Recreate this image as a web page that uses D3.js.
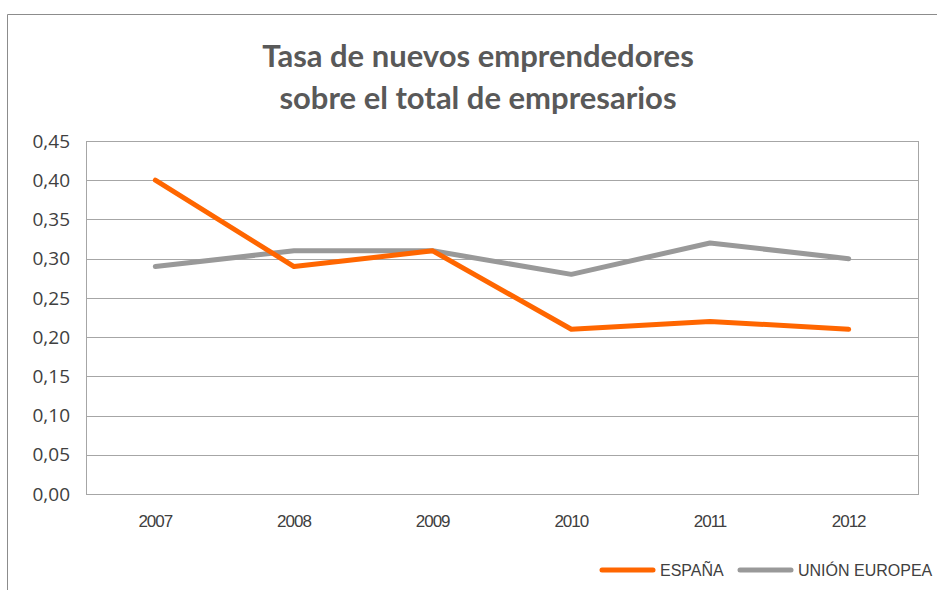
<!DOCTYPE html>
<html>
<head>
<meta charset="utf-8">
<script src="https://cdn.jsdelivr.net/npm/d3@7"></script>
<style>
  body { margin: 0; background: #fff; }
  svg { display: block; }
</style>
</head>
<body>
<div id="chart"></div>
<script>
// data
const years = ['2007', '2008', '2009', '2010', '2011', '2012']
const espana = [0.40, 0.29, 0.31, 0.21, 0.22, 0.21]
const unionEuropea = [0.29, 0.31, 0.31, 0.28, 0.32, 0.30]
const yTicks = [0, 0.05, 0.10, 0.15, 0.20, 0.25, 0.30, 0.35, 0.40, 0.45]
const seriesNames = ['ESPAÑA', 'UNIÓN EUROPEA']

const width = 937
const height = 590
const margin = { top: 141, right: 19, bottom: 96, left: 86 }
const colors = ['#ff6600', '#999999']

const svg = d3.select('#chart').append('svg')
  .attr('width', width)
  .attr('height', height)

// outer chart frame (only top and left visible)
svg.append('path')
  .attr('d', `M7.5,${height} V14.5 H${width}`)
  .attr('fill', 'none')
  .attr('stroke', '#8c8c8c')
  .attr('stroke-width', 1)

// title
const title = svg.append('text')
  .attr('text-anchor', 'middle')
  .attr('fill', '#595959')
  .style('font-family', 'Lato, "Open Sans", sans-serif')
  .style('font-weight', 'bold')
  .style('font-size', '31px')
title.append('tspan').attr('x', 478).attr('y', 67).text('Tasa de nuevos emprendedores')
title.append('tspan').attr('x', 478).attr('y', 109).text('sobre el total de empresarios')

const x = d3.scaleBand()
  .domain(years)
  .range([margin.left, width - margin.right])

const y = d3.scaleLinear()
  .domain([0, 0.45])
  .range([height - margin.bottom, margin.top])

// grid lines
svg.append('g')
  .selectAll('line')
  .data(yTicks)
  .enter()
  .append('line')
  .attr('x1', margin.left)
  .attr('x2', width - margin.right)
  .attr('y1', d => Math.round(y(d)) + 0.5)
  .attr('y2', d => Math.round(y(d)) + 0.5)
  .attr('stroke', '#a6a6a6')

// plot area border
svg.append('rect')
  .attr('x', margin.left + 0.5)
  .attr('y', Math.round(y(0.45)) + 0.5)
  .attr('width', width - margin.right - margin.left)
  .attr('height', Math.round(y(0)) - Math.round(y(0.45)))
  .attr('fill', 'none')
  .attr('stroke', '#a6a6a6')

// y axis labels
svg.append('g')
  .selectAll('text')
  .data(yTicks)
  .enter()
  .append('text')
  .attr('x', 70)
  .attr('y', d => y(d))
  .attr('dy', '0.35em')
  .attr('text-anchor', 'end')
  .attr('fill', '#404040')
  .style('font-family', '"Open Sans", sans-serif')
  .style('font-size', '19px')
  .text(d => d.toFixed(2).replace('.', ','))

// x axis labels
svg.append('g')
  .selectAll('text')
  .data(years)
  .enter()
  .append('text')
  .attr('x', d => x(d) + x.bandwidth() / 2)
  .attr('y', 527)
  .attr('text-anchor', 'middle')
  .attr('fill', '#404040')
  .style('font-family', '"Liberation Sans", Arial, sans-serif')
  .style('font-size', '17px')
  .style('letter-spacing', '-1px')
  .text(d => d)

// lines
const line = d3.line()
  .x((d, i) => x(years[i]) + x.bandwidth() / 2)
  .y(d => y(d))

const series = [espana, unionEuropea]

svg.append('g')
  .selectAll('path')
  .data([unionEuropea, espana])
  .enter()
  .append('path')
  .attr('d', line)
  .attr('fill', 'none')
  .attr('stroke', d => colors[series.indexOf(d)])
  .attr('stroke-width', 5)
  .attr('stroke-linejoin', 'round')
  .attr('stroke-linecap', 'round')

// legend
const legendX = [600, 738]
const legend = svg.append('g')
  .selectAll('g')
  .data(seriesNames)
  .enter()
  .append('g')
  .attr('transform', (d, i) => `translate(${legendX[i]},570)`)

legend.append('line')
  .attr('x1', 2)
  .attr('x2', 53)
  .attr('stroke', (d, i) => colors[i])
  .attr('stroke-width', 5)
  .attr('stroke-linecap', 'round')

legend.append('text')
  .attr('x', 60)
  .attr('dy', '0.35em')
  .attr('fill', '#404040')
  .style('font-family', '"Liberation Sans", Arial, sans-serif')
  .style('font-size', '16px')
  .text(d => d)
</script>
</body>
</html>
